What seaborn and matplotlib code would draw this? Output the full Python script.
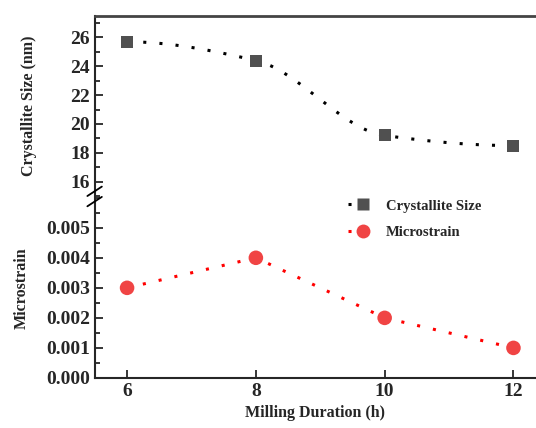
import numpy as np
import pandas as pd
import matplotlib
matplotlib.use("Agg")
import matplotlib.pyplot as plt
from matplotlib.lines import Line2D
import seaborn as sns

# data
hours = [6, 8, 10, 12]
crystallite_nm = [25.7, 24.4, 19.2, 18.5]
microstrain = [0.003, 0.004, 0.002, 0.001]

sns.set_style("ticks")
plt.rcParams['font.family'] = ['Liberation Serif', 'DejaVu Serif']
plt.rcParams['font.weight'] = 'bold'
plt.rcParams['axes.labelweight'] = 'bold'

df = pd.DataFrame({"h": hours, "size": crystallite_nm, "strain": microstrain})


def pchip_curve(x, y, n=200):
    # monotone cubic connector through the points (Fritsch-Carlson)
    x = np.asarray(x, float)
    y = np.asarray(y, float)
    h = np.diff(x)
    d = np.diff(y) / h
    m = np.zeros_like(y)
    for i in range(1, len(x) - 1):
        if d[i - 1] * d[i] > 0:
            w1 = 2 * h[i] + h[i - 1]
            w2 = h[i] + 2 * h[i - 1]
            m[i] = (w1 + w2) / (w1 / d[i - 1] + w2 / d[i])
    m[0] = ((2 * h[0] + h[1]) * d[0] - h[0] * d[1]) / (h[0] + h[1])
    if np.sign(m[0]) != np.sign(d[0]):
        m[0] = 0
    m[-1] = ((2 * h[-1] + h[-2]) * d[-1] - h[-1] * d[-2]) / (h[-1] + h[-2])
    if np.sign(m[-1]) != np.sign(d[-1]):
        m[-1] = 0
    xs = np.linspace(x[0], x[-1], n)
    idx = np.clip(np.searchsorted(x, xs) - 1, 0, len(x) - 2)
    t = (xs - x[idx]) / h[idx]
    h00 = 2 * t**3 - 3 * t**2 + 1
    h10 = t**3 - 2 * t**2 + t
    h01 = -2 * t**3 + 3 * t**2
    h11 = t**3 - t**2
    ys = h00 * y[idx] + h10 * h[idx] * m[idx] + h01 * y[idx + 1] + h11 * h[idx] * m[idx + 1]
    return xs, ys


fig = plt.figure(figsize=(5.36, 4.28), dpi=100)
ax_top = fig.add_axes([0.177, 0.542, 0.823, 0.421])
ax_bot = fig.add_axes([0.177, 0.117, 0.823, 0.421])

dots = (0, (1, 4.3))

# top: crystallite size
xs, ys = pchip_curve(df["h"], df["size"])
sns.lineplot(x=xs, y=ys, ax=ax_top, color="black", lw=2.2, linestyle=dots)
sns.scatterplot(data=df, x="h", y="size", ax=ax_top, marker="s", s=75,
                color="#505050", edgecolor="none", zorder=3)

# bottom: microstrain
sns.lineplot(data=df, x="h", y="strain", ax=ax_bot, color="red", lw=2.2,
             linestyle=dots)
sns.scatterplot(data=df, x="h", y="strain", ax=ax_bot, marker="o", s=110,
                color="#f04444", edgecolor="none", zorder=3)

for ax in (ax_top, ax_bot):
    ax.set_xlim(5.5, 12.35)
    ax.spines["right"].set_visible(False)
    ax.tick_params(direction="in", which="both", labelsize=14, width=1.3)
    ax.tick_params(which="major", length=6)
    ax.tick_params(which="minor", length=3.5)
    ax.spines["left"].set_linewidth(1.5)

ax_top.set_ylim(15, 27.5)
ax_top.set_yticks([16, 18, 20, 22, 24, 26])
ax_top.set_yticks(np.arange(15, 28, 1), minor=True)
ax_top.spines["bottom"].set_visible(False)
ax_top.spines["top"].set_linewidth(2)
ax_top.spines["top"].set_color("#444444")
ax_top.tick_params(axis="x", which="both", bottom=False, labelbottom=False)
ax_top.set_xlabel("")
ax_top.set_ylabel("Crystallite Size (nm)", fontsize=11.5, labelpad=24)

ax_bot.set_ylim(0, 0.006)
ax_bot.set_yticks([0, 0.001, 0.002, 0.003, 0.004, 0.005])
ax_bot.set_yticklabels(["0.000", "0.001", "0.002", "0.003", "0.004", "0.005"])
ax_bot.set_yticks(np.arange(0, 0.0061, 0.0005), minor=True)
ax_bot.spines["top"].set_visible(False)
ax_bot.spines["bottom"].set_linewidth(1.5)
ax_bot.set_xticks([6, 8, 10, 12])
ax_bot.set_xlabel("Milling Duration (h)", fontsize=11.5, labelpad=4)
ax_bot.set_ylabel("Microstrain", fontsize=11.5, labelpad=12)

# axis break marks
for dy in (-0.012, 0.012):
    fig.add_artist(Line2D([0.163, 0.19], [0.53 + dy, 0.552 + dy],
                          color="black", lw=1.3))

# legend
handles = [
    Line2D([], [], color="black", lw=2.2, linestyle=dots, marker="s",
           markersize=8.5, markerfacecolor="#505050", markeredgecolor="none"),
    Line2D([], [], color="red", lw=2.2, linestyle=dots, marker="o",
           markersize=10, markerfacecolor="#f04444", markeredgecolor="none"),
]
fig.legend(handles, ["Crystallite Size", "Microstrain"], loc="upper left",
           bbox_to_anchor=(0.625, 0.565), frameon=False, fontsize=10.5,
           handlelength=2.0, handletextpad=0.6, labelspacing=0.9)

fig.savefig("out.png", dpi=100)
